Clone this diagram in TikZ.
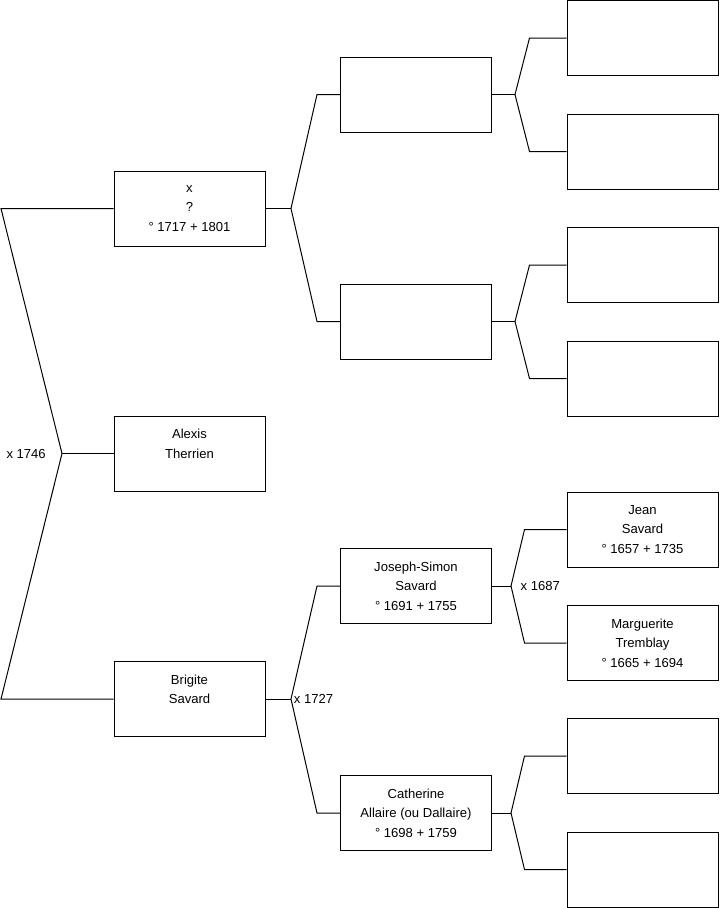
\documentclass[tikz,border=0pt]{standalone}
\usepackage{fontspec}
\setmainfont{Liberation Sans}
\usetikzlibrary{positioning}
\begin{document}
\begin{tikzpicture}[
  x=0.75pt, y=-0.75pt,
  person/.style={
    rectangle, draw, line width=0.75pt, minimum width=113.25pt, minimum height=56.25pt,
    inner sep=0pt, align=center, font=\fontsize{9.8}{14.6}\selectfont
  },
  link/.style={line width=0.75pt},
  wed/.style={font=\fontsize{9.8}{11}\selectfont, inner sep=0pt}
]
\useasboundingbox (0,0) rectangle (719,908);

% Generation 1
\node[person] (f) at (189.5,208.5) {x\\?\\° 1717 + 1801};
\node[person] (r) at (189.5,453.5) {Alexis\\Therrien\\\mbox{}};
\node[person] (m) at (189.5,699) {Brigite\\Savard\\\mbox{}};

% Generation 2
\node[person] (ff) at (416,94.5) {};
\node[person] (fm) at (416,321.5) {};
\node[person] (mf) at (416,586) {Joseph-Simon\\Savard\\° 1691 + 1755};
\node[person] (mm) at (416,813) {Catherine\\Allaire (ou Dallaire)\\° 1698 + 1759};

% Generation 3
\node[person] (fff) at (642.5,38) {};
\node[person] (ffm) at (642.5,151.5) {};
\node[person] (fmf) at (642.5,265) {};
\node[person] (fmm) at (642.5,378.5) {};
\node[person] (mff) at (642.5,529.5) {Jean\\Savard\\° 1657 + 1735};
\node[person] (mfm) at (642.5,643) {Marguerite\\Tremblay\\° 1665 + 1694};
\node[person] (mmf) at (642.5,756) {};
\node[person] (mmm) at (642.5,869.5) {};

% Forks
\coordinate (t0) at (1,208.5);
\coordinate (b0) at (1,699);
\coordinate (v0) at (62,453.5);
\coordinate (vf) at (291,208.5);
\coordinate (vm) at (291,699);
\coordinate (vff) at (515,94.5);
\coordinate (vfm) at (515,321.5);
\coordinate (vmf) at (511,586);
\coordinate (vmm) at (511,813);

% Links
\draw[link] (f.west) -- (t0) -- (v0) -- (b0) -- (m.west);
\draw[link] (v0) -- (r.west);
\node[wed, left=12pt of v0] (w0) {x 1746};

\draw[link] (f.east) -- (vf);
\draw[link] (ff.west) -- ++(-23,0) -- (vf) -- ([xshift=-17.25pt]fm.west) -- (fm.west);
\draw[link] (m.east) -- (vm);
\draw[link] (mf.west) -- ++(-23,0) -- (vm) -- ([xshift=-17.25pt]mm.west) -- (mm.west);
\node[wed, right=2pt of vm] (wm) {x 1727};

\draw[link] (ff.east) -- (vff);
\draw[link] (fff.west) -- ++(-37,0) -- (vff) -- ([xshift=-27.75pt]ffm.west) -- (ffm.west);
\draw[link] (fm.east) -- (vfm);
\draw[link] (fmf.west) -- ++(-37,0) -- (vfm) -- ([xshift=-27.75pt]fmm.west) -- (fmm.west);
\draw[link] (mf.east) -- (vmf);
\draw[link] (mff.west) -- ++(-42,0) -- (vmf) -- ([xshift=-31.5pt]mfm.west) -- (mfm.west);
\node[wed, right=7pt of vmf] (wmf) {x 1687};
\draw[link] (mm.east) -- (vmm);
\draw[link] (mmf.west) -- ++(-42,0) -- (vmm) -- ([xshift=-31.5pt]mmm.west) -- (mmm.west);
\end{tikzpicture}
\end{document}
